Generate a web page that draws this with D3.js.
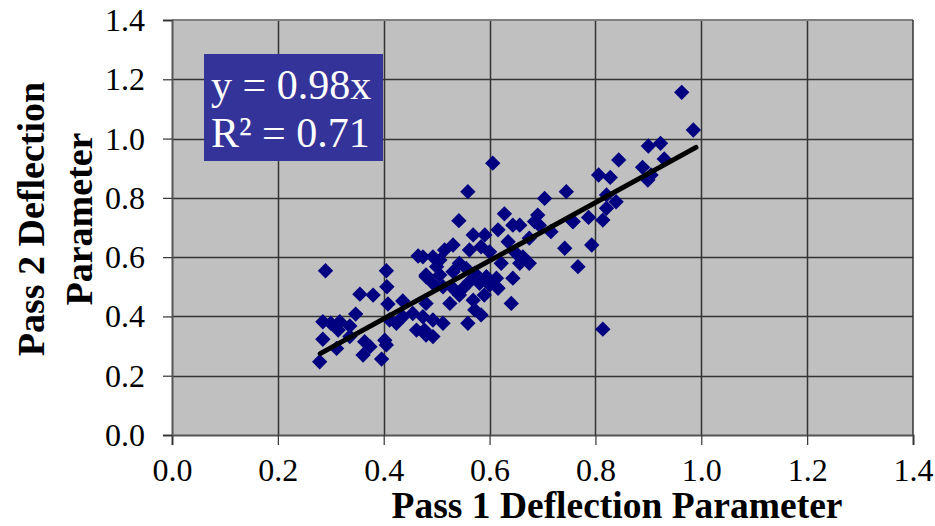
<!DOCTYPE html>
<html>
<head>
<meta charset="utf-8">
<script src="https://cdn.jsdelivr.net/npm/d3@7"></script>
<style>
  html, body { margin: 0; padding: 0; background: #fff; }
  svg { display: block; }
  text { font-family: "Liberation Serif", "Times New Roman", serif; }
</style>
</head>
<body>
<svg id="chart" width="935" height="526"></svg>
<script>
// ---- Data ----
const pass1 = [
  0.29,0.405,0.406,0.355,0.38,0.408,0.436,0.465,0.48,0.347,
  0.285,0.30,0.317,0.336,0.314,0.285,0.311,0.279,0.364,0.374,
  0.361,0.396,0.402,0.405,0.411,0.424,0.436,0.455,0.462,0.48,
  0.336,
  0.606,0.559,0.704,0.745,0.542,0.628,0.616,0.644,0.657,0.691,
  0.685,0.694,0.757,0.716,0.675,0.569,0.591,0.635,0.531,0.515,
  0.562,0.584,0.60,0.742,0.767,0.65,0.663,0.675,0.657,0.622,
  0.543,0.556,0.506,0.493,0.474,0.50,0.48,0.506,0.531,0.572,
  0.594,0.613,0.644,0.562,0.581,0.60,0.616,0.55,0.531,0.512,
  0.493,0.543,0.525,0.569,0.59,0.641,0.48,0.572,0.584,0.559,
  0.512,0.493,0.474,0.493,0.477,
  0.963,0.985,0.90,0.923,0.93,0.844,0.889,0.905,0.899,0.806,
  0.828,0.821,0.839,0.821,0.787,0.814,0.758,0.793,0.814
];
const pass2 = [
  0.554,0.554,0.50,0.475,0.472,0.442,0.452,0.604,0.54,0.408,
  0.382,0.377,0.382,0.368,0.354,0.323,0.292,0.247,0.315,0.298,
  0.27,0.256,0.32,0.304,0.388,0.377,0.399,0.41,0.354,0.337,
  0.332,
  0.917,0.821,0.798,0.821,0.723,0.746,0.692,0.708,0.708,0.742,
  0.72,0.708,0.72,0.686,0.664,0.675,0.675,0.652,0.641,0.624,
  0.624,0.635,0.618,0.63,0.568,0.613,0.601,0.579,0.579,0.579,
  0.579,0.562,0.59,0.601,0.601,0.568,0.534,0.54,0.551,0.546,
  0.534,0.529,0.529,0.517,0.512,0.506,0.495,0.495,0.495,0.50,
  0.512,0.472,0.444,0.455,0.472,0.444,0.444,0.422,0.405,0.377,
  0.377,0.388,0.399,0.332,0.354,
  1.156,1.029,0.975,0.984,0.931,0.928,0.903,0.877,0.86,0.877,
  0.869,0.81,0.787,0.765,0.734,0.725,0.72,0.641,0.357
];
const xTicks = [0.0, 0.2, 0.4, 0.6, 0.8, 1.0, 1.2, 1.4];
const yTicks = [0.0, 0.2, 0.4, 0.6, 0.8, 1.0, 1.2, 1.4];
const slope = 0.98;
const trendRange = [0.28, 0.99];
const eqLines = ["y = 0.98x", "R\u00b2 = 0.71"];
const xTitle = "Pass 1 Deflection Parameter";
const yTitleLines = ["Pass 2 Deflection", "Parameter"];

// ---- Layout ----
const SERIF = "'Liberation Serif', 'Times New Roman', serif";
const svg = d3.select("#chart");
const L = 172, R = 913, T = 20, B = 435;
const x = d3.scaleLinear().domain([0, 1.4]).range([L, R]);
const y = d3.scaleLinear().domain([0, 1.4]).range([B, T]);

// plot background
svg.append("rect").attr("x", L).attr("y", T).attr("width", R - L).attr("height", B - T)
  .attr("fill", "#c0c0c0");

// gridlines
const grid = svg.append("g");
grid.selectAll(".gx").data(xTicks.slice(1, -1)).enter().append("line")
  .attr("x1", d => Math.round(x(d)) + 0.5).attr("x2", d => Math.round(x(d)) + 0.5)
  .attr("y1", T).attr("y2", B).attr("stroke", "#333").attr("stroke-width", 1.5);
grid.selectAll(".gy").data(yTicks.slice(1, -1)).enter().append("line")
  .attr("y1", d => Math.round(y(d)) + 0.5).attr("y2", d => Math.round(y(d)) + 0.5)
  .attr("x1", L).attr("x2", R).attr("stroke", "#333").attr("stroke-width", 1.5);

// plot border
svg.append("line").attr("x1", L).attr("x2", R).attr("y1", T).attr("y2", T)
  .attr("stroke", "#808080").attr("stroke-width", 2);
svg.append("line").attr("x1", R).attr("x2", R).attr("y1", T).attr("y2", B)
  .attr("stroke", "#333").attr("stroke-width", 1.5);

// axes
const xAxis = d3.axisBottom(x).tickValues(xTicks).tickFormat(d3.format(".1f"))
  .tickSize(10).tickPadding(13);
const gx = svg.append("g").attr("transform", `translate(0,${B})`).call(xAxis);
const yAxis = d3.axisLeft(y).tickValues(yTicks).tickFormat(d3.format(".1f"))
  .tickSize(9).tickPadding(18);
const gy = svg.append("g").attr("transform", `translate(${L},0)`).call(yAxis);
[gx, gy].forEach(g => {
  g.attr("font-family", null).attr("font-size", null);
  g.select(".domain").attr("stroke", "#555").attr("stroke-width", 2);
  g.selectAll(".tick line").attr("stroke", "#333").attr("stroke-width", 1.2);
  g.selectAll(".tick text").style("font-family", SERIF)
    .style("font-size", "32px").attr("fill", "#000");
});
gx.selectAll(".tick text").attr("dy", "0.71em");
gy.selectAll(".tick text").attr("dy", "0.33em");

// points (diamonds)
const pts = pass1.map((v, i) => ({ x: v, y: pass2[i] }));
const diamond = d3.symbol().type(d3.symbolDiamond2).size(150);
svg.append("g").selectAll("path").data(pts).enter().append("path")
  .attr("d", diamond)
  .attr("transform", d => `translate(${x(d.x)},${y(d.y)})`)
  .attr("fill", "#000080");

// trendline
const line = d3.line().x(d => x(d)).y(d => y(slope * d));
svg.append("path").datum(trendRange).attr("d", line)
  .attr("stroke", "#000").attr("stroke-width", 5).attr("stroke-linecap", "round")
  .attr("fill", "none");

// equation box
svg.append("rect").attr("x", 204).attr("y", 54).attr("width", 179).attr("height", 107)
  .attr("fill", "#333399");
svg.append("g").selectAll("text").data(eqLines).enter().append("text")
  .attr("x", 211).attr("y", (d, i) => 99 + i * 48)
  .style("font-family", SERIF).style("font-size", "42px")
  .attr("fill", "#fff").text(d => d);

// axis titles
svg.append("text").attr("x", 617).attr("y", 518).attr("text-anchor", "middle")
  .style("font-family", SERIF).style("font-size", "37.5px")
  .attr("font-weight", "bold").text(xTitle);
const yt = svg.append("g").attr("transform", "translate(0,219) rotate(-90)");
yt.selectAll("text").data(yTitleLines).enter().append("text")
  .attr("x", 0).attr("y", (d, i) => 44 + i * 48).attr("text-anchor", "middle")
  .style("font-family", SERIF).style("font-size", "38px")
  .attr("font-weight", "bold").text(d => d);
</script>
</body>
</html>
